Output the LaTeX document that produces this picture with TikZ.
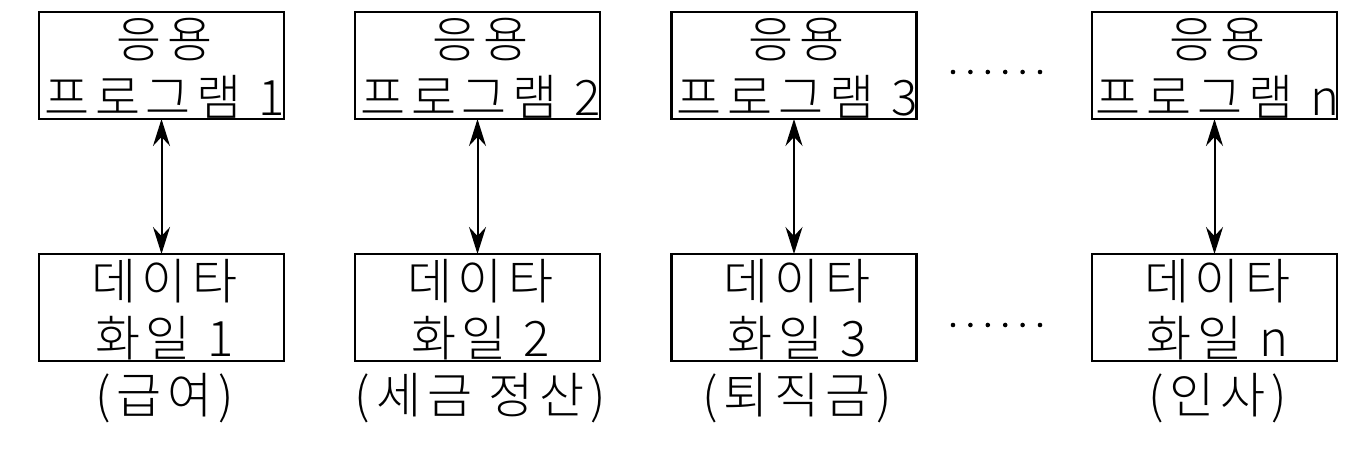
\documentclass[tikz,border=0pt]{standalone}
\usepackage{fontspec}
\setmainfont{Noto Sans CJK KR Light}[LetterSpace=12]
\usetikzlibrary{arrows.meta}
\tikzset{
  boxnode/.style={draw, line width=2.2pt, minimum width=245pt, minimum height=107pt, inner sep=0pt, outer sep=0pt},
  txt/.style={anchor=base, inner sep=0pt, font=\fontsize{49}{57}\selectfont},
  link/.style={line width=2pt, {Stealth[length=27pt,width=17pt,inset=9pt]}-{Stealth[length=27pt,width=17pt,inset=9pt]}},
  dot/.style={fill=black}
}
\begin{document}
\begin{tikzpicture}[x=1pt,y=-1pt]
\useasboundingbox (0,0) rectangle (1358,449);
% boxes
\foreach \i/\x in {1/161.5, 2/477.5, 3/794, 4/1214.5}{
  \node[boxnode] (t\i) at (\x,65.5) {};
  \node[boxnode] (b\i) at (\x,307.5) {};
}
% texts and connectors
\foreach \i/\x/\n in {1/161.5/1, 2/477.5/2, 3/794/3, 4/1214.5/n}{
  \node[txt] (ta\i) at (\x+3,58) {응용};
  \node[txt] (tb\i) at (\x+3,116) {프로그램 \n};
  \node[txt] (ba\i) at (\x+3,299) {데이타};
  \node[txt] (bb\i) at (\x+3,356) {화일 \n};
  \draw[link] (t\i.south) -- (b\i.north);
}
\node[txt] (l1) at (164.5,413) {(급여)};
\node[txt] (l2) at (480.5,413) {(세금 정산)};
\node[txt] (l3) at (797,413) {(퇴직금)};
\node[txt] (l4) at (1217.5,413) {(인사)};
% dots
\foreach \k in {0,...,5}{
  \fill[dot] (953+17.4*\k,72) circle (2.3);
  \fill[dot] (953+17.4*\k,325) circle (2.3);
}
\end{tikzpicture}
\end{document}
